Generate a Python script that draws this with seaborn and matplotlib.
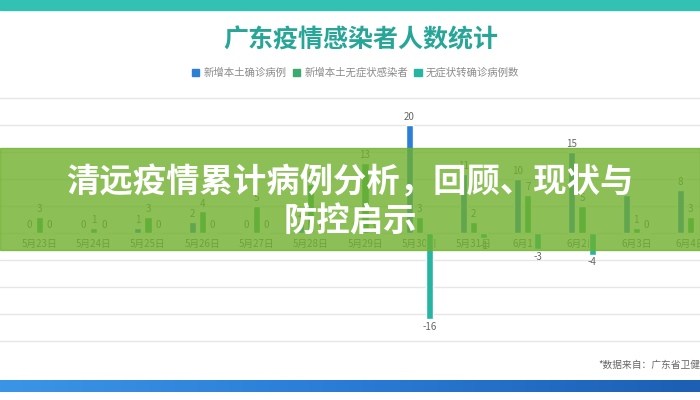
import numpy as np
import pandas as pd
import matplotlib
matplotlib.use("Agg")
import matplotlib.pyplot as plt
from matplotlib.patches import Rectangle, Patch
from matplotlib.colors import LinearSegmentedColormap
import seaborn as sns

# Data
dates = ['5月22日', '5月23日', '5月24日', '5月25日', '5月26日', '5月27日', '5月28日',
         '5月29日', '5月30日', '5月31日', '6月1日', '6月2日', '6月3日', '6月4日']
confirmed = [0, 0, 0, 1, 2, 0, 2, 0, 20, 11, 10, 15, 7, 8]
asymptomatic = [1, 3, 1, 3, 4, 5, 9, 13, 3, 2, 7, 5, 1, 3]
converted = [0, 0, 0, 0, 0, 0, 0, 0, -16, -1, -3, -4, 0, 0]
series_names = ['新增本土确诊病例', '新增本土无症状感染者', '无症状转确诊病例数']
colors = ['#2b7fd6', '#3aab6c', '#26b5a3']

title = '广东疫情感染者人数统计'
banner_lines = ['清远疫情累计病例分析，回顾、现状与', '防控启示']
source = '*数据来自：广东省卫健委'

sns.set_style("whitegrid")
plt.rcParams['font.family'] = ['Noto Sans CJK SC', 'DejaVu Sans']

df = pd.DataFrame({
    'date': dates * 3,
    'value': confirmed + asymptomatic + converted,
    'series': [s for s in series_names for _ in dates],
})

fig = plt.figure(figsize=(7, 4), dpi=100)
ax = fig.add_axes([0, 0.125, 1, 0.65])

sns.barplot(data=df, x='date', y='value', hue='series', hue_order=series_names,
            order=dates, palette=colors, width=0.555, gap=0.3, ax=ax,
            legend=False, saturation=1)

for cont in ax.containers:
    ax.bar_label(cont, fmt='%d', padding=2, fontsize=7, color='#666666')

ax.set_xlim(0.272, 13.175)
ax.set_ylim(-21.67, 26.48)
ax.set_yticks(range(-20, 26, 5))
ax.set_yticklabels([])
ax.set_xlabel('')
ax.set_ylabel('')
ax.grid(axis='y', color='#e6e6e6', linewidth=1)
ax.grid(axis='x', visible=False)
for side in ['left', 'right', 'top']:
    ax.spines[side].set_visible(False)
ax.spines['bottom'].set_position(('data', 0))
ax.spines['bottom'].set_color('none')
ax.tick_params(axis='x', length=0, pad=4, labelsize=7, labelcolor='#666666')
ax.tick_params(axis='y', length=0)

# header / footer bands
fig.add_artist(Rectangle((0, 0.975), 1, 0.025, transform=fig.transFigure,
                         color='#33c1b3', zorder=1))
band = fig.add_axes([0, 0.02, 1, 0.03])
band.imshow(np.linspace(0, 1, 256).reshape(1, -1), aspect='auto',
            cmap=LinearSegmentedColormap.from_list('band', ['#3b95e6', '#2a7bd6', '#1c5fb4']))
band.set_axis_off()

fig.text(0.515, 0.9, title, ha='center', va='center', fontsize=18,
         fontweight='bold', color='#27a698')

handles = [Patch(color=c, label=n) for c, n in zip(colors, series_names)]
fig.legend(handles=handles, loc='center', bbox_to_anchor=(0.508, 0.8175), ncol=3,
           frameon=False, fontsize=7.5, handlelength=0.7, handleheight=0.7,
           handletextpad=0.4, columnspacing=0.6, labelcolor='#8a8a8a')

fig.text(598 / 700, 1 - 365 / 400, source, ha='left', va='center', fontsize=7,
         color='#666666')

# green banner overlay with headline
fig.add_artist(Rectangle((0, 1 - 250 / 400), 1, 102 / 400, transform=fig.transFigure,
                         color='#6fb12d', alpha=0.8, zorder=5))
fig.text(0.5, 1 - 183 / 400, banner_lines[0], ha='center', va='center', fontsize=24,
         fontweight='heavy', color='white', zorder=6)
fig.text(0.5, 1 - 222 / 400, banner_lines[1], ha='center', va='center', fontsize=24,
         fontweight='heavy', color='white', zorder=6)

fig.savefig('out.png', dpi=100)
